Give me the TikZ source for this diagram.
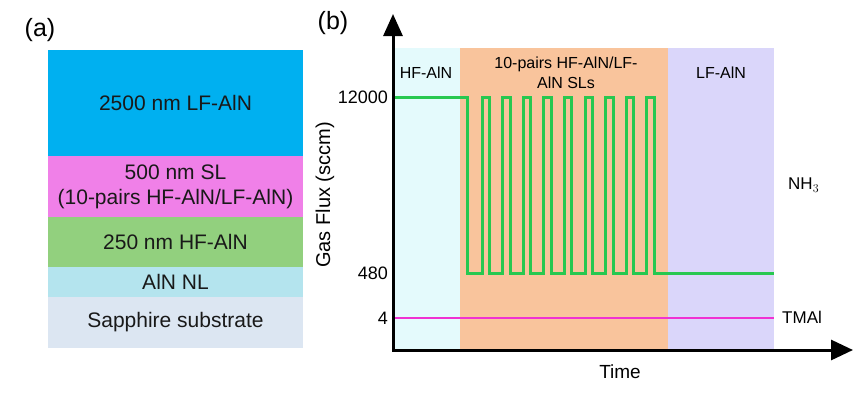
\documentclass[tikz,border=0pt]{standalone}
\usepackage{fontspec}
\setmainfont{Liberation Sans}
\usetikzlibrary{arrows.meta}
\definecolor{cBlue}{RGB}{0,176,240}
\definecolor{cPink}{RGB}{240,128,232}
\definecolor{cGreen}{RGB}{146,208,126}
\definecolor{cCyan}{RGB}{180,228,238}
\definecolor{cSapph}{RGB}{220,230,242}
\definecolor{rHF}{RGB}{228,250,252}
\definecolor{rSL}{RGB}{249,196,156}
\definecolor{rLF}{RGB}{218,214,250}
\definecolor{lnGreen}{RGB}{40,200,80}
\definecolor{lnMag}{RGB}{240,50,210}
\tikzset{
  layer/.style={inner sep=0pt, minimum width=255pt, align=center, text=black!90,
    font=\fontsize{21}{25}\selectfont},
  panel/.style={font=\fontsize{25}{28}\selectfont, inner sep=0pt},
  tick/.style={font=\fontsize{18}{20}\selectfont, anchor=east, inner sep=0pt},
  region/.style={font=\fontsize{16}{20}\selectfont, align=center, inner sep=0pt},
  gas/.style={font=\fontsize{17}{20}\selectfont, anchor=west, inner sep=0pt},
  axis/.style={line width=3pt, black, {Triangle[length=22pt,width=19pt]}-{Triangle[length=22pt,width=20pt]}},
  nhline/.style={line width=3pt, lnGreen},
  tmline/.style={line width=2.4pt, lnMag}
}
\begin{document}
\begin{tikzpicture}[x=1pt,y=-1pt]
\useasboundingbox (0,0) rectangle (864,392);
% panel (a)
\node[panel] (pa) at (40,30) {(a)};
\node[layer, fill=cBlue,  minimum height=106pt] (l1) at (175.5,103) {2500 nm LF-AlN};
\node[layer, fill=cPink,  minimum height=61pt]  (l2) at (175.5,186.5) {500 nm SL\\(10-pairs HF-AlN/LF-AlN)};
\node[layer, fill=cGreen, minimum height=50pt]  (l3) at (175.5,242) {250 nm HF-AlN};
\node[layer, fill=cCyan,  minimum height=30pt]  (l4) at (175.5,282) {AlN NL};
\node[layer, fill=cSapph, minimum height=51pt]  (l5) at (175.5,322.5) {Sapphire substrate};
% panel (b)
\node[panel] (pb) at (333,23) {(b)};
\fill[rHF] (393,48) rectangle (460,350);
\fill[rSL] (460,48) rectangle (668,350);
\fill[rLF] (668,48) rectangle (774,350);
\node[region] (rh) at (426,73) {HF-AlN};
\node[region] (rs) at (566,73) {10-pairs HF-AlN/LF-\\AlN SLs};
\node[region] (rl) at (721,73) {LF-AlN};
% NH3 trace
\draw[nhline] (393,97) -- (467,97) -- (467,273)
  foreach \i in {0,...,8} { -- ({482+20.6*\i},273) -- ({482+20.6*\i},97) -- ({489.5+20.6*\i},97) -- ({489.5+20.6*\i},273) }
  -- (774,273);
% TMAl trace
\draw[tmline] (393,318) -- (774,318);
% axes
\coordinate (ytop) at (393,14);
\coordinate (xend) at (853,350);
\draw[axis] (ytop) |- (xend);
\node[tick] (t1) at (388,97) {12000};
\node[tick] (t2) at (388,273) {480};
\node[tick] (t3) at (388,318) {4};
\node[font=\fontsize{20}{22}\selectfont, rotate=90, inner sep=0pt] (ylab) at (325,195) {Gas Flux (sccm)};
\node[font=\fontsize{19}{22}\selectfont, inner sep=0pt] (xlab) at (620,372) {Time};
\node[gas] (nh3) at (788,185) {NH$_3$};
\node[gas] (tma) at (782,317) {TMAl};
\end{tikzpicture}
\end{document}
